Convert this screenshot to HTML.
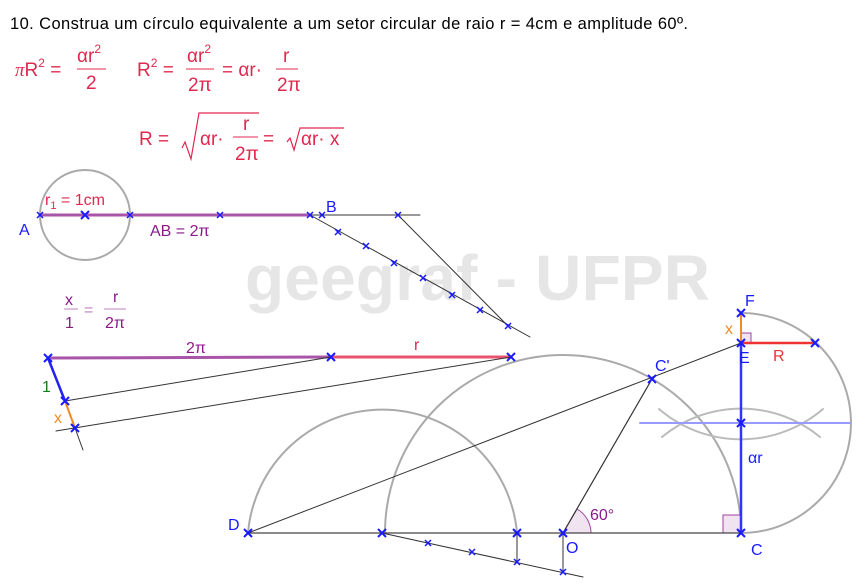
<!DOCTYPE html>
<html><head><meta charset="utf-8">
<style>
html,body{margin:0;padding:0;background:#fff;}
svg{display:block;}
.t{font-family:"Liberation Sans",sans-serif;}
</style></head>
<body>
<svg id="fig" width="861" height="585" viewBox="0 0 861 585" xmlns="http://www.w3.org/2000/svg">
<text x="245" y="300" class="t" font-size="64" font-weight="bold" fill="#e6e6e6" textLength="465">geegraf - UFPR</text>
<text x="10" y="29" class="t" font-size="16.5" fill="#000" textLength="678">10. Construa um círculo equivalente a um setor circular de raio r = 4cm e amplitude 60º.</text>

<g fill="#e0284f" class="t" font-size="19">
  <text x="15" y="76"><tspan font-style="italic" font-family="Liberation Serif">π</tspan>R<tspan font-size="12" dy="-9">2</tspan><tspan dy="9"> =</tspan></text>
  <text x="77" y="62">αr<tspan font-size="12" dy="-9">2</tspan></text>
  <line x1="77" y1="69" x2="106" y2="69" stroke="#e0284f" stroke-width="1"/>
  <text x="86" y="89">2</text>
  <text x="137" y="76">R<tspan font-size="12" dy="-9">2</tspan><tspan dy="9"> =</tspan></text>
  <text x="187" y="62">αr<tspan font-size="12" dy="-9">2</tspan></text>
  <line x1="186" y1="69" x2="214" y2="69" stroke="#e0284f" stroke-width="1"/>
  <text x="188" y="91">2π</text>
  <text x="222" y="76">= αr·</text>
  <text x="283" y="62">r</text>
  <line x1="276" y1="69" x2="298" y2="69" stroke="#e0284f" stroke-width="1"/>
  <text x="277" y="91">2π</text>
  <text x="139" y="145">R =</text>
  <path d="M182,148 l3,-6 l6,17 l8,-46 h60" fill="none" stroke="#e0284f" stroke-width="1.2"/>
  <text x="200" y="145">αr·</text>
  <text x="243" y="130">r</text>
  <line x1="233" y1="137" x2="258" y2="137" stroke="#e0284f" stroke-width="1"/>
  <text x="235" y="160">2π</text>
  <text x="263" y="145">=</text>
  <path d="M287,142 l3,-4 l4,12 l6,-22 h44" fill="none" stroke="#e0284f" stroke-width="1.2"/>
  <text x="301" y="145">αr· x</text>
</g>

<g id="geom" fill="none" stroke-linecap="round">
  <circle cx="85" cy="215" r="45" stroke="#aaa" stroke-width="2"/>
  <line x1="40" y1="215" x2="310" y2="215" stroke="#a855a8" stroke-width="3"/>
  <line x1="310" y1="215" x2="420" y2="215" stroke="#333" stroke-width="1"/>
  <line x1="310" y1="215" x2="530" y2="337" stroke="#333" stroke-width="1"/>
  <line x1="398" y1="215" x2="508" y2="326" stroke="#333" stroke-width="1"/>

  <line x1="48" y1="358" x2="331" y2="357" stroke="#a855a8" stroke-width="3"/>
  <line x1="331" y1="357" x2="511" y2="357" stroke="#e8546e" stroke-width="3"/>
  <line x1="48" y1="358" x2="65" y2="401" stroke="#2222ee" stroke-width="2.5"/>
  <line x1="65" y1="401" x2="75" y2="428" stroke="#f08a24" stroke-width="2"/>
  <line x1="75" y1="428" x2="83" y2="450" stroke="#333" stroke-width="1"/>
  <line x1="65" y1="401" x2="331" y2="357" stroke="#333" stroke-width="1"/>
  <line x1="56" y1="431" x2="511" y2="357" stroke="#333" stroke-width="1"/>

  <path d="M248,533 A135,135 0 0 1 517,533" stroke="#aaa" stroke-width="2"/>
  <path d="M385,533 A178,178 0 0 1 741,533" stroke="#aaa" stroke-width="2"/>
  <path d="M741,313 A110,110 0 0 1 741,533" stroke="#aaa" stroke-width="2"/>
  <path d="M659,409 A126,126 0 0 0 823,409" stroke="#bbb" stroke-width="2"/>
  <path d="M662,437 A124,124 0 0 1 820,437" stroke="#bbb" stroke-width="2"/>
  <line x1="640" y1="423" x2="850" y2="423" stroke="#99f" stroke-width="2"/>

  <path d="M591,533 A28,28 0 0 0 577,509 L563,533 Z" fill="#f0e4f0" stroke="#a040a0" stroke-width="1"/>
  <rect x="723" y="515" width="18" height="18" fill="#f0e4f0" stroke="#a040a0" stroke-width="1"/>
  <rect x="741" y="333" width="10" height="10" fill="#f0e4f0" stroke="#a040a0" stroke-width="1"/>

  <line x1="248" y1="533" x2="741" y2="533" stroke="#444" stroke-width="1.2"/>
  <line x1="248" y1="533" x2="741" y2="343" stroke="#333" stroke-width="1"/>
  <line x1="563" y1="533" x2="652" y2="379" stroke="#333" stroke-width="1.2"/>
  <line x1="382" y1="533" x2="583" y2="577" stroke="#333" stroke-width="1"/>
  <line x1="517" y1="533" x2="517" y2="562" stroke="#333" stroke-width="1"/>
  <line x1="563" y1="533" x2="563" y2="572" stroke="#333" stroke-width="1"/>
  <line x1="741" y1="343" x2="741" y2="533" stroke="#3333ff" stroke-width="2.5"/>
  <line x1="741" y1="313" x2="741" y2="343" stroke="#f08a24" stroke-width="2"/>
  <line x1="741" y1="343" x2="815" y2="343" stroke="#ee3333" stroke-width="2.5"/>
</g>
<g id="marks"></g>

<g class="t" font-size="16">
  <text x="19" y="235" fill="#1a1aff">A</text>
  <text x="326" y="212" fill="#1a1aff">B</text>
  <text x="45" y="205" fill="#e0284f">r<tspan font-size="11" dy="4">1</tspan><tspan dy="-4"> = 1cm</tspan></text>
  <text x="150" y="236" fill="#8a1a8a">AB = 2π</text>
  <text x="65" y="305" fill="#8a1a8a">x</text>
  <line x1="64" y1="309" x2="78" y2="309" stroke="#c080c0"/>
  <text x="65" y="328" fill="#8a1a8a">1</text>
  <text x="84" y="315" fill="#c080c0">=</text>
  <text x="113" y="302" fill="#8a1a8a">r</text>
  <line x1="104" y1="309" x2="126" y2="309" stroke="#c080c0"/>
  <text x="105" y="328" fill="#8a1a8a">2π</text>
  <text x="186" y="353" fill="#8a1a8a">2π</text>
  <text x="414" y="350" fill="#e0284f">r</text>
  <text x="42" y="392" fill="#1a7a1a">1</text>
  <text x="54" y="423" fill="#f08a24">x</text>
  <text x="228" y="530" fill="#1a1aff">D</text>
  <text x="566" y="553" fill="#1a1aff">O</text>
  <text x="751" y="555" fill="#1a1aff">C</text>
  <text x="655" y="371" fill="#1a1aff">C'</text>
  <text x="745" y="306" fill="#1a1aff">F</text>
  <text x="739" y="363" fill="#1a1aff">E</text>
  <text x="725" y="334" fill="#f08a24">x</text>
  <text x="773" y="361" fill="#ee3333">R</text>
  <text x="748" y="463" fill="#1a1aff">αr</text>
  <text x="590" y="520" fill="#8a1a8a">60°</text>
</g>

<script>
const pointXs = [40,85,130,220,310,322,398,338,366,394,423,452,480,508,48,331,511,65,75,248,382,517,563,741,652,741,741,741,815,428,472,517,563];
const pointYs = [215,215,215,215,215,215,215,232,246,263,278,295,310,326,358,357,357,401,428,533,533,533,533,533,379,343,313,423,343,543,552,562,572];
const pointSizes = [3,4,3,3,3,3,3,3,3,3,3,3,3,3,4,4,4,4,4,4,4,4,4,4,4,4,4,4,4,3,3,3,3];
const g = document.getElementById('marks');
const NS = 'http://www.w3.org/2000/svg';
for (let i = 0; i < pointXs.length; i++) {
  const p = document.createElementNS(NS, 'path');
  const x = pointXs[i], y = pointYs[i], s = pointSizes[i];
  p.setAttribute('d', `M${x-s},${y-s}L${x+s},${y+s}M${x-s},${y+s}L${x+s},${y-s}`);
  p.setAttribute('stroke', '#1a1aff');
  p.setAttribute('stroke-width', s > 3 ? '2' : '1.5');
  
  
  g.appendChild(p);
}
</script>
</svg>
</body></html>
